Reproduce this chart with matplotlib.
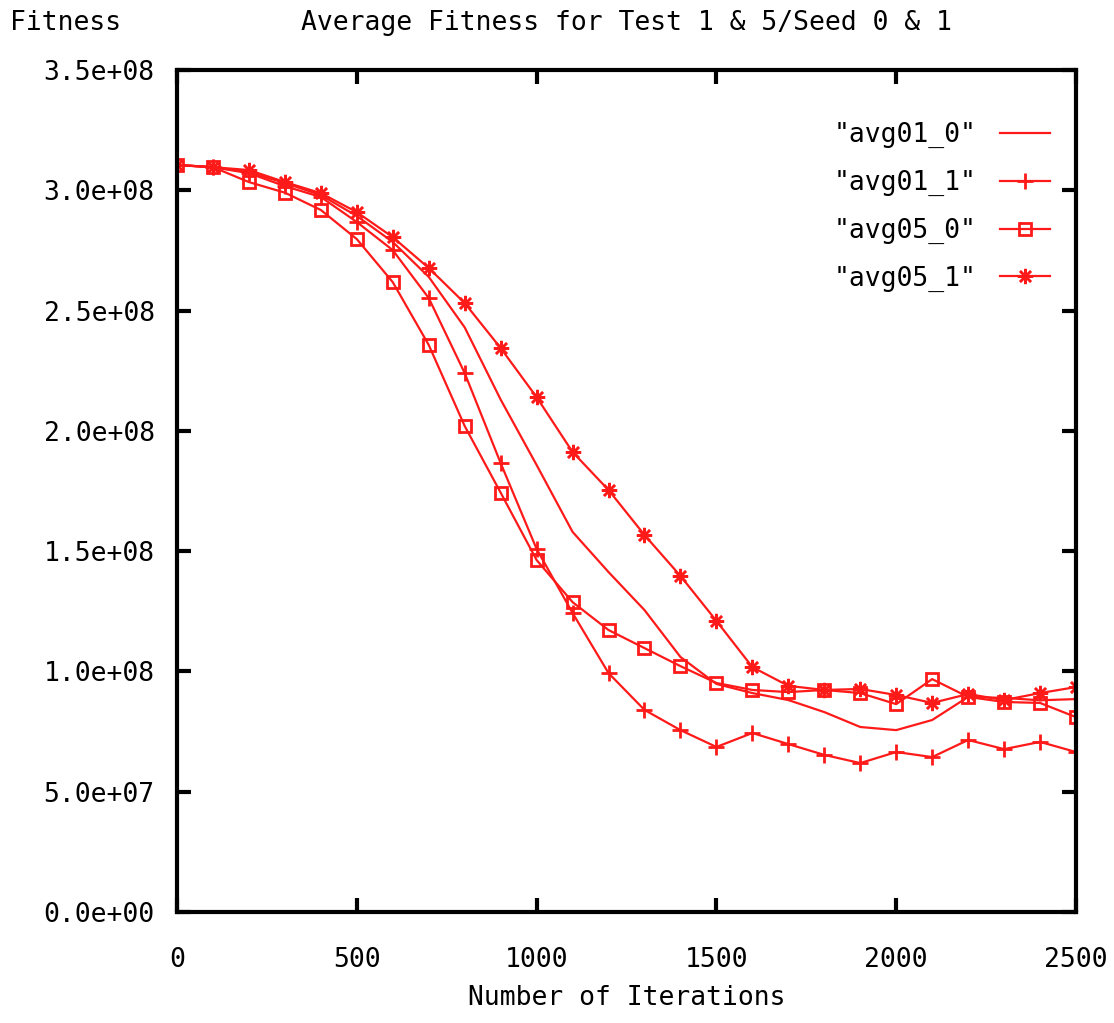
import matplotlib.pyplot as plt
import numpy as np

# Iterations sampled every 100 steps
iterations = list(range(0, 2600, 100))

# Average fitness for each test/seed run (in units of 1e7)
avg01_0 = [31.05, 30.96, 30.75, 30.30, 29.80, 28.93, 27.85, 26.40, 24.30, 21.30,
           18.58, 15.80, 14.13, 12.55, 10.60, 9.48, 9.10, 8.81, 8.31, 7.69,
           7.56, 7.98, 8.94, 8.90, 8.80, 8.85]
avg01_1 = [31.05, 30.96, 30.71, 30.17, 29.72, 28.68, 27.51, 25.52, 22.40, 18.66,
           15.09, 12.43, 9.93, 8.40, 7.56, 6.86, 7.44, 6.98, 6.53, 6.19,
           6.65, 6.44, 7.15, 6.77, 7.07, 6.65]
avg05_0 = [31.05, 30.96, 30.34, 29.90, 29.18, 27.97, 26.18, 23.57, 20.20, 17.43,
           14.63, 12.88, 11.72, 10.97, 10.22, 9.52, 9.23, 9.14, 9.23, 9.10,
           8.64, 9.68, 8.94, 8.73, 8.69, 8.10]
avg05_1 = [31.05, 30.96, 30.84, 30.34, 29.88, 29.09, 28.05, 26.77, 25.31, 23.44,
           21.40, 19.12, 17.54, 15.67, 13.97, 12.10, 10.18, 9.40, 9.23, 9.27,
           9.02, 8.69, 9.06, 8.81, 9.10, 9.35]

series = {
    '"avg01_0"': (avg01_0, dict(marker=None)),
    '"avg01_1"': (avg01_1, dict(marker='+', markersize=11, markeredgewidth=2)),
    '"avg05_0"': (avg05_0, dict(marker='s', markersize=8, markerfacecolor='none',
                                markeredgewidth=2)),
    '"avg05_1"': (avg05_1, dict(marker=(8, 2, 0), markersize=11, markeredgewidth=1.8)),
}

plt.rcParams['font.family'] = ['DejaVu Sans Mono']
fs = 19

fig = plt.figure(figsize=(11.14, 10.23), dpi=100)
ax = fig.add_axes([0.1589, 0.1085, 0.8070, 0.8231])

x = np.array(iterations)
for name, (vals, style) in series.items():
    ax.plot(x, np.array(vals) * 1e7, color='#ff1a1a', linewidth=1.6, label=name, **style)

ax.set_xlim(0, 2500)
ax.set_ylim(0, 3.5e8)
ax.set_xticks(range(0, 2501, 500))
yt = np.arange(0, 3.51e8, 0.5e8)
ax.set_yticks(yt)
ax.set_yticklabels([f'{v:.1e}' for v in yt])

ax.tick_params(direction='in', length=10, width=3, top=True, right=True,
               labelsize=fs, pad=16)
ax.tick_params(axis='x', pad=25)
for s in ax.spines.values():
    s.set_linewidth(3)

fig.text(0.009, 0.978, 'Fitness', fontsize=fs, va='center', ha='left')
fig.text(0.5625, 0.978, 'Average Fitness for Test 1 & 5/Seed 0 & 1', fontsize=fs,
         va='center', ha='center')
ax.set_xlabel('Number of Iterations', fontsize=fs, labelpad=9)

ax.legend(loc='upper right', bbox_to_anchor=(0.998, 0.966), frameon=False,
          markerfirst=False, fontsize=fs, handlelength=1.9, labelspacing=0.82,
          numpoints=1, handletextpad=0.9)

fig.savefig('out.png', dpi=100, facecolor='white')
